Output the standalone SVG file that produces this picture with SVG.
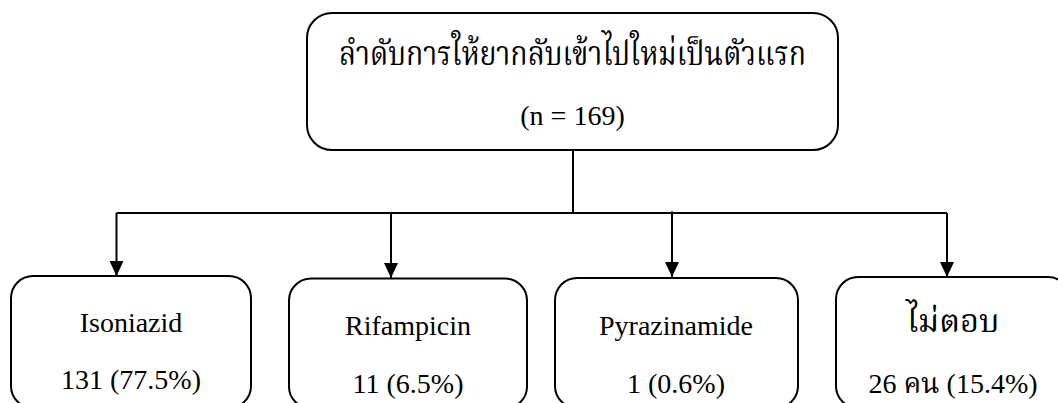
<svg xmlns="http://www.w3.org/2000/svg" width="1058" height="403" viewBox="0 0 1058 403">
<style>
.box{fill:#fff;stroke:#000;stroke-width:2}
.t{font-family:'Liberation Serif',serif;font-size:28px;fill:#000;text-anchor:middle}
.th{font-family:'Noto Serif Thai','Noto Sans Thai',serif;fill:#000;text-anchor:middle}
.thi{font-family:'Noto Serif Thai','Noto Sans Thai',serif}
.ln{fill:none;stroke:#000;stroke-width:2}
</style>
<defs>
<marker id="ah" markerWidth="15" markerHeight="14" refX="15" refY="7" orient="auto" markerUnits="userSpaceOnUse">
<path d="M0,0 L15,7 L0,14 Z" fill="#000"/>
</marker>
</defs>
<g id="connectors">
<path class="ln" d="M573,150 V213"/>
<path class="ln" d="M116.5,213 H947"/>
<path class="ln" d="M116.5,213 V276" marker-end="url(#ah)"/>
<path class="ln" d="M391,213 V278" marker-end="url(#ah)"/>
<path class="ln" d="M672,211.5 V277" marker-end="url(#ah)"/>
<path class="ln" d="M947,213 V277" marker-end="url(#ah)"/>
</g>
<g id="top">
<rect class="box" x="307" y="13" width="531" height="137" rx="25"/>
<text class="th" x="572.5" y="65" font-size="33" textLength="467" lengthAdjust="spacingAndGlyphs">ลำดับการให้ยากลับเข้าไปใหม่เป็นตัวแรก</text>
<text class="t" x="572.5" y="125">(n = 169)</text>
</g>
<g id="isoniazid">
<rect class="box" x="11" y="276" width="240" height="132" rx="22"/>
<text class="t" x="131" y="332">Isoniazid</text>
<text class="t" x="131" y="389">131 (77.5%)</text>
</g>
<g id="rifampicin">
<rect class="box" x="289" y="278.5" width="238" height="130" rx="22"/>
<text class="t" x="408" y="335">Rifampicin</text>
<text class="t" x="408" y="393">11 (6.5%)</text>
</g>
<g id="pyrazinamide">
<rect class="box" x="555" y="278" width="243" height="130" rx="22"/>
<text class="t" x="676" y="335">Pyrazinamide</text>
<text class="t" x="676" y="393">1 (0.6%)</text>
</g>
<g id="noanswer">
<rect class="box" x="836" y="277" width="234" height="131" rx="22"/>
<text class="th" x="953" y="332" font-size="32" textLength="93" lengthAdjust="spacingAndGlyphs">ไม่ตอบ</text>
<text class="t" x="953" y="393">26 <tspan class="thi">คน</tspan> (15.4%)</text>
</g>
</svg>
